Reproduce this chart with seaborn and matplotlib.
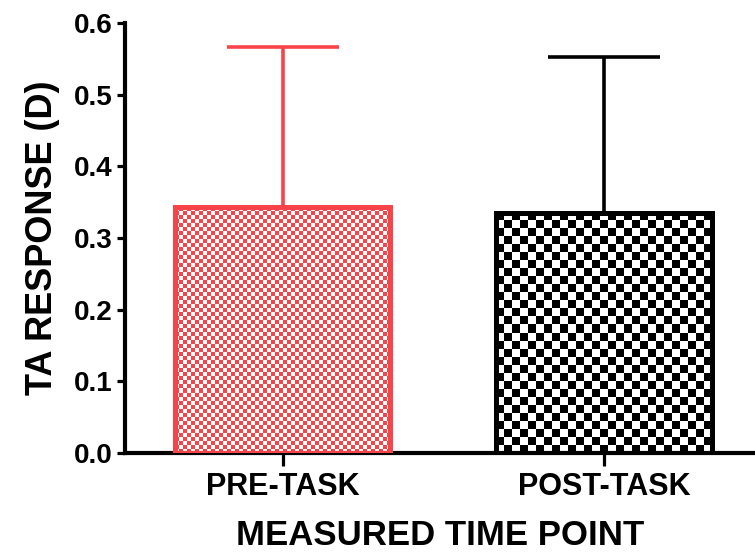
import numpy as np
import pandas as pd
import matplotlib
matplotlib.use("Agg")
import matplotlib.pyplot as plt
from matplotlib.ticker import FormatStrFormatter
import seaborn as sns

# ---- data ----
categories = ["PRE-TASK", "POST-TASK"]
means = [0.343, 0.335]
sd_upper = [0.224, 0.217]
colors = ["#F84448", "#000000"]
check_px = [4, 8]          # checkerboard cell size in pixels
y_ticks = [0.0, 0.1, 0.2, 0.3, 0.4, 0.5, 0.6]

sns.set_theme(style="ticks")
plt.rcParams["font.family"] = ["Liberation Sans", "DejaVu Sans"]
plt.rcParams["font.weight"] = "bold"
for k in ["text.color", "axes.labelcolor", "xtick.color", "ytick.color", "axes.edgecolor"]:
    plt.rcParams[k] = "black"

W, H, DPI = 755, 552, 100
fig = plt.figure(figsize=(W / DPI, H / DPI), dpi=DPI)
ax = fig.add_axes([125 / W, (H - 453) / H, 1 - 125 / W, (453 - 23) / H])

df = pd.DataFrame({"cat": categories, "val": means})
sns.barplot(data=df, x="cat", y="val", hue="cat", palette=dict(zip(categories, colors)),
            width=0.67, legend=False, ax=ax, errorbar=None)

ax.set_xlim(-0.49, 1.47)
ax.set_ylim(0, 0.6)

fig.canvas.draw()
for i, p in enumerate(ax.patches):
    col = colors[i]
    p.set_facecolor("white")
    p.set_edgecolor(col)
    p.set_linewidth(3.6)
    p.set_zorder(2)
    x0, y0 = p.get_x(), p.get_y()
    w, h = p.get_width(), p.get_height()
    (px0, py0) = ax.transData.transform((x0, y0))
    (px1, py1) = ax.transData.transform((x0 + w, y0 + h))
    c = check_px[i]
    nx = max(1, int(round((px1 - px0) / c)))
    ny = max(1, int(round((py1 - py0) / c)))
    ii, jj = np.meshgrid(np.arange(nx), np.arange(ny))
    board = ((ii + jj) % 2).astype(float)
    rgb = np.array(matplotlib.colors.to_rgb(col))
    img = np.ones((ny, nx, 3))
    img[board == 1] = rgb
    im = ax.imshow(img, extent=(x0, x0 + w, y0, y0 + h), origin="lower",
                   interpolation="nearest", aspect="auto", zorder=2.5)
    im.set_clip_path(p)
    edge = matplotlib.patches.Rectangle((x0, y0), w, h, fill=False, edgecolor=col,
                                        linewidth=3.6, zorder=3)
    ax.add_patch(edge)

for i in range(len(categories)):
    ax.errorbar(i, means[i], yerr=[[0], [sd_upper[i]]], color=colors[i],
                elinewidth=2.6, capsize=40, capthick=2.6, zorder=1.5, fmt="none")

ax.set_xlim(-0.49, 1.47)
ax.set_ylim(0, 0.6)
ax.set_yticks(y_ticks)
ax.yaxis.set_major_formatter(FormatStrFormatter("%.1f"))

sns.despine(ax=ax)
for s in ["left", "bottom"]:
    ax.spines[s].set_linewidth(3)
    ax.spines[s].set_color("black")
ax.tick_params(axis="both", length=6, width=2.3, color="black", labelcolor="black")
ax.tick_params(axis="y", labelsize=20, pad=3)
ax.tick_params(axis="x", labelsize=22, pad=5, length=9)
for lab in ax.get_xticklabels() + ax.get_yticklabels():
    lab.set_fontweight("bold")
    lab.set_color("black")

ax.set_xlabel("MEASURED TIME POINT", fontsize=25, fontweight="bold", labelpad=12, color="black")
ax.set_ylabel("TA RESPONSE (D)", fontsize=26, fontweight="bold", labelpad=10, color="black")
ax.set_facecolor("white")
fig.patch.set_facecolor("white")

fig.savefig("out.png", dpi=DPI)
